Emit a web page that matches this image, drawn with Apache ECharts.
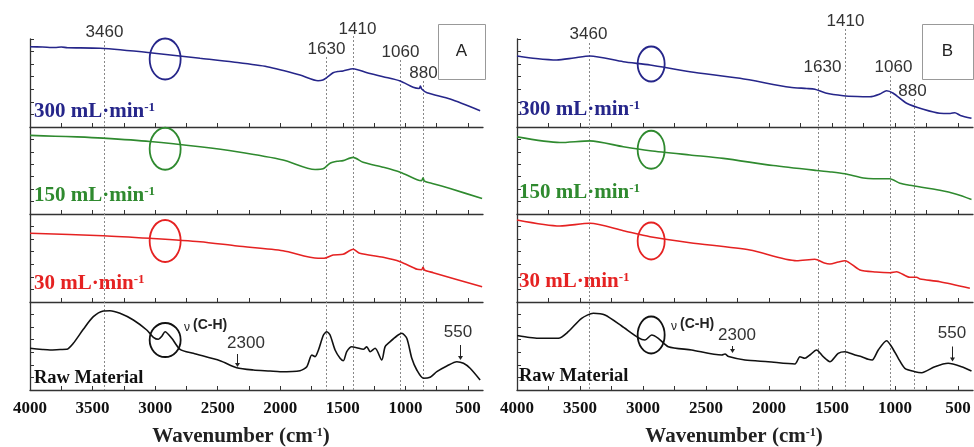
<!DOCTYPE html>
<html><head><meta charset="utf-8">
<script src="https://cdn.jsdelivr.net/npm/echarts@6/dist/echarts.min.js"></script>
<style>html,body{margin:0;padding:0;background:#fff}#c{width:974px;height:447px}</style>
</head><body><div id="c"></div>
<script>
// ---------- data ----------
const labelTicks = [4000, 3500, 3000, 2500, 2000, 1500, 1000, 500];
const minorTicks = [4000, 3750, 3500, 3250, 3000, 2750, 2500, 2250, 2000, 1750, 1500, 1250, 1000, 750, 500];
const seriesNames = ['300 mL·min', '150 mL·min', '30 mL·min', 'Raw Material'];
const panelNames = ['A', 'B'];

const A_300 = [[4000,80.3],[3900,80],[3800,79.5],[3750,80],[3700,79.3],[3440,78.7],[3041,74.3],[2641,68.7],[2377,65],[2105,60.3],[1842,52],[1698,46.3],[1660,47],[1626,49.7],[1578,54.3],[1540,55.5],[1498,56],[1418,58.3],[1306,54.3],[1178,50.3],[1042,46],[938,39.7],[890,38.5],[880,41],[870,38],[827,34.3],[643,28],[403,16.3]];
const A_150 = [[4000,79.5],[3800,78.7],[3625,78],[3416,76.7],[3041,73.3],[2641,68],[2345,63],[1978,54.7],[1722,45],[1658,45.7],[1602,51.3],[1546,53.3],[1498,54],[1418,57.3],[1338,52.3],[1178,47.3],[1042,42.3],[906,34.7],[870,33.8],[859,36.7],[848,33.3],[778,30.7],[643,25.7],[387,15.7]];
const A_30 = [[4000,68.7],[3416,66.3],[3041,63.7],[2641,60.3],[2345,56],[1978,51.3],[1698,43.7],[1650,43.7],[1578,47],[1498,47.7],[1418,52.7],[1365,48.7],[1178,44.7],[1042,40.3],[906,32.7],[870,32.3],[859,34.7],[848,32],[778,29.3],[387,15.3]];
const A_raw = [[4000,41.7],[3900,40.5],[3840,40],[3760,40.5],[3707,40.7],[3654,46.7],[3574,60.7],[3494,73.3],[3414,79],[3361,79.3],[3281,76.7],[3174,70],[3067,60],[3014,52.7],[2974,50.7],[2945,54],[2921,58.3],[2867,51.7],[2801,40.7],[2695,36.7],[2481,29.3],[2348,22.3],[2215,20],[2082,19],[2002,18.3],[1842,19.3],[1788,23.3],[1748,35],[1722,33.3],[1695,40],[1655,55],[1628,58.3],[1602,55],[1562,40],[1522,31.7],[1496,29.3],[1469,38.3],[1429,43.3],[1389,42.3],[1336,40.7],[1309,43.3],[1282,38.3],[1242,41.7],[1189,30],[1162,43.3],[1122,48.3],[1069,54],[1029,56.7],[989,51.7],[949,31.7],[909,20],[856,11.7],[803,12.7],[749,18.3],[669,24],[589,28.3],[536,26.7],[483,21.7],[403,10]];

const B_300 = [[4000,71],[3850,68.5],[3685,67],[3550,69],[3421,71],[3156,65.3],[2944,62],[2627,55.3],[2230,48.7],[1833,39.7],[1700,38.5],[1635,37.7],[1550,34],[1410,31.3],[1300,30.5],[1198,30.3],[1120,33],[1066,36.3],[1013,33.7],[907,23.7],[775,17.7],[643,13.7],[560,13.5],[524,14.3],[480,11.5],[392,8.7]];
const B_150 = [[4000,78],[3659,72.3],[3421,74],[3156,68],[2944,64],[2627,59.7],[2363,56.3],[1966,49],[1622,44],[1500,42.5],[1397,40.7],[1250,36.5],[1172,35.7],[1040,35.7],[960,31],[881,29],[643,24],[511,20],[392,14.7]];
const B_30 = [[4000,82],[3659,76],[3421,78.7],[3156,71.3],[2944,65.3],[2627,59.3],[2151,52],[1780,41.3],[1635,42.7],[1560,39],[1516,38],[1450,40],[1397,41.3],[1278,32],[1150,30],[1040,29.3],[987,30.3],[881,24.7],[828,24.7],[800,23],[643,20.3],[405,13.7]];
const B_raw = [[4000,54.5],[3900,52.5],[3831,51.7],[3672,51.7],[3593,58.3],[3487,71.7],[3394,76.7],[3302,75],[3169,64],[3037,52.3],[2984,50],[2931,55],[2878,51.7],[2799,43.3],[2614,40],[2375,35],[2349,36],[2320,33.5],[2190,30],[2006,28.3],[1794,26],[1754,33.3],[1714,31.7],[1675,35],[1622,40],[1569,33.3],[1516,28.3],[1450,36.7],[1397,38.3],[1317,35],[1264,33.3],[1212,30.7],[1180,30],[1132,40],[1066,49.3],[1026,43.3],[973,31.7],[921,21.7],[841,18.3],[788,17.3],[683,23.3],[577,26.7],[471,23.3],[392,19]];

// peak marker lines: label text, position (wavenumber) as drawn
const peaksA_label = ['3460','1630','1410','1060','880'];
const peaksA_wn    = [3410, 1634, 1418, 1042, 859];
const peaksB_label = ['3460','1630','1410','1060','880'];
const peaksB_wn    = [3429, 1611, 1397, 1040, 849];
// C-H ellipse centres (wavenumber, value per row)
const chA_wn = 2920, chA_val = [68, 66, 61, 50];
const chB_wn = 2935, chB_val = [63, 65, 61, 55];
// arrow annotations: label, wavenumber, value at tip
const arrowsA = [['2300', 2345, 23], ['550', 563, 30]];
const arrowsB = [['2300', 2294, 37], ['550', 548, 28.5]];

// ---------- layout / style ----------
const colors = ['#26268a', '#2f8a2f', '#e52222', '#111111'];
const panels = [
  {left: 30, right: 491, data: [A_300, A_150, A_30, A_raw]},
  {left: 517, right: 1, data: [B_300, B_150, B_30, B_raw]}
];
const rowTops = [39, 127, 214, 302];
const rowHeights = [88, 87, 88, 88];

const grid = [], xAxis = [], yAxis = [], series = [];
panels.forEach((p, pi) => {
  for (let r = 0; r < 4; r++) {
    const gi = pi * 4 + r;
    grid.push({left: p.left, right: p.right, top: rowTops[r], height: rowHeights[r]});
    xAxis.push({
      type: 'value', gridIndex: gi, min: 380, max: 4000, inverse: true,
      axisLine: {show: true, onZero: false, lineStyle: {color: '#333', width: 1.3}},
      axisTick: {show: true, inside: true, length: 4, customValues: minorTicks, lineStyle: {color: '#333'}},
      axisLabel: {show: r === 3, customValues: labelTicks, formatter: v => String(v), color: '#111',
        fontFamily: 'Liberation Serif', fontWeight: 'bold', fontSize: 17, margin: 10},
      splitLine: {show: false}
    });
    yAxis.push({
      type: 'value', gridIndex: gi, min: 0, max: 88, interval: 88 / 7,
      axisLine: {show: true, lineStyle: {color: '#333', width: 1.3}},
      axisTick: {show: true, inside: true, length: 4, lineStyle: {color: '#333'}},
      axisLabel: {show: false}, splitLine: {show: false}
    });
    series.push({
      type: 'line', name: seriesNames[r] + ' ' + panelNames[pi], xAxisIndex: gi, yAxisIndex: gi,
      data: p.data[r], showSymbol: false, smooth: 0.25,
      lineStyle: {color: colors[r], width: 1.6}, z: 3
    });
  }
});

const chart = echarts.init(document.getElementById('c'));
chart.setOption({animation: false, backgroundColor: '#fff', grid, xAxis, yAxis, series});

// ---------- annotations ----------
const g = [];
const lblFont = '17px "Liberation Sans", Arial, sans-serif';
function px(gi, wn, v) { return chart.convertToPixel({gridIndex: gi}, [wn, v]); }

const peakCfg = [
  {labels: peaksA_label, wn: peaksA_wn, labelY: [32, 49, 29, 52, 73], lineTop: [41, 57, 36, 60, 81], dx: [0, 0, 4, 0, 0]},
  {labels: peaksB_label, wn: peaksB_wn, labelY: [34.5, 67, 21, 67, 91], lineTop: [43, 76, 29, 76, 99], dx: [-1, 4, 0, 3, -2]}
];
peakCfg.forEach((pc, pi) => {
  pc.wn.forEach((w, i) => {
    const x = Math.round(px(pi * 4 + 3, w, 0)[0]) + 0.5;
    g.push({type: 'line', z: 1, shape: {x1: x, y1: pc.lineTop[i], x2: x, y2: 390},
      style: {stroke: '#888', lineWidth: 1, lineDash: [2, 2]}});
    g.push({type: 'text', z: 10, x: x + pc.dx[i], y: pc.labelY[i],
      style: {text: pc.labels[i], font: lblFont, fill: '#333', textAlign: 'center', textVerticalAlign: 'middle'}});
  });
});

// ellipses
[[chA_wn, chA_val, 15.5, [20.5, 21, 21, 17]], [chB_wn, chB_val, 13.5, [17.5, 19, 18.5, 18.5]]].forEach((e, pi) => {
  for (let r = 0; r < 4; r++) {
    const c = px(pi * 4 + r, e[0], e[1][r]);
    g.push({type: 'ellipse', z: 10, shape: {cx: c[0], cy: c[1], rx: e[2], ry: e[3][r]},
      style: {fill: 'none', stroke: colors[r], lineWidth: 1.8}});
  }
});

// series labels
const sly = [[112, 196, 284, 378], [110, 193, 282, 376]];
panels.forEach((p, pi) => {
  for (let r = 0; r < 4; r++) {
    const x = pi === 0 ? 34 : 519;
    const isRaw = r === 3;
    const txt = isRaw ? '{r|' + seriesNames[r] + '}' : '{a|' + seriesNames[r] + '}{s|-1}';
    g.push({type: 'text', z: 10, x: x, y: sly[pi][r],
      style: {text: txt, textVerticalAlign: 'middle',
        rich: {
          a: {fontFamily: 'Liberation Serif', fontWeight: 'bold', fontSize: 21, fill: colors[r]},
          s: {fontFamily: 'Liberation Serif', fontWeight: 'bold', fontSize: 13, fill: colors[r], verticalAlign: 'top'},
          r: {fontFamily: 'Liberation Serif', fontWeight: 'bold', fontSize: 18.5, fill: '#111'}
        }}});
  }
});

// v(C-H) labels
[[184, 325], [671, 324]].forEach(pos => {
  g.push({type: 'text', z: 10, x: pos[0], y: pos[1],
    style: {text: '{v|ν}{c|(C-H)}', textVerticalAlign: 'middle',
      rich: {v: {fontFamily: 'Liberation Sans', fontSize: 12, fill: '#222', padding: [5, 3, 0, 0]},
             c: {fontFamily: 'Liberation Sans', fontWeight: 'bold', fontSize: 14, fill: '#222'}}}});
});

// arrows with labels
const arrowLabelPos = [[[246, 343], [458, 332]], [[737, 335], [952, 333]]];
const arrowLen = [[13, 15], [7, 15]];
[arrowsA, arrowsB].forEach((arr, pi) => {
  arr.forEach((a, i) => {
    const tip = px(pi * 4 + 3, a[1], a[2]);
    const x = Math.round(tip[0]) + 0.5, y = tip[1];
    const L = arrowLen[pi][i];
    g.push({type: 'line', z: 10, shape: {x1: x, y1: y - L, x2: x, y2: y - 3}, style: {stroke: '#222', lineWidth: 1}});
    g.push({type: 'polygon', z: 10, shape: {points: [[x - 2.5, y - 4], [x + 2.5, y - 4], [x, y]]}, style: {fill: '#222'}});
    g.push({type: 'text', z: 10, x: arrowLabelPos[pi][i][0], y: arrowLabelPos[pi][i][1],
      style: {text: a[0], font: lblFont, fill: '#333', textAlign: 'center', textVerticalAlign: 'middle'}});
  });
});

// panel boxes
[[438, 24, 47, 55, 'A'], [922, 24, 51, 55, 'B']].forEach(b => {
  g.push({type: 'rect', z: 10, shape: {x: b[0] + 0.5, y: b[1] + 0.5, width: b[2], height: b[3]},
    style: {fill: '#fff', stroke: '#999', lineWidth: 1}});
  g.push({type: 'text', z: 11, x: b[0] + b[2] / 2, y: b[1] + b[3] / 2,
    style: {text: b[4], font: '17px "Liberation Sans", Arial, sans-serif', fill: '#222', textAlign: 'center', textVerticalAlign: 'middle'}});
});

// axis titles
[241, 734].forEach(cx => {
  g.push({type: 'text', z: 10, x: cx, y: 437,
    style: {text: '{a|Wavenumber (cm}{s|-1}{a|)}', textAlign: 'center', textVerticalAlign: 'middle',
      rich: {a: {fontFamily: 'Liberation Serif', fontWeight: 'bold', fontSize: 21, fill: '#222'},
             s: {fontFamily: 'Liberation Serif', fontWeight: 'bold', fontSize: 12, fill: '#222', verticalAlign: 'top'}}}});
});

chart.setOption({graphic: g});
</script></body></html>
